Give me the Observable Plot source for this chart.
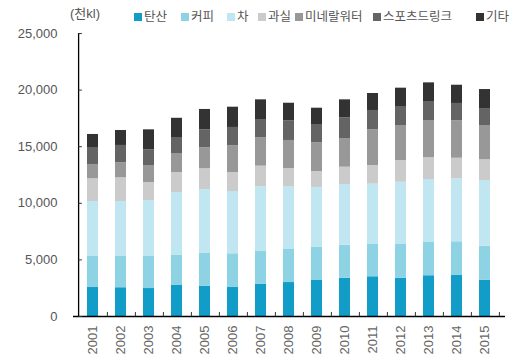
<!DOCTYPE html>
<html>
<head>
<meta charset="utf-8">
<script src="https://cdn.jsdelivr.net/npm/d3@7"></script>
<script src="https://cdn.jsdelivr.net/npm/@observablehq/plot@0.6"></script>
<style>
  html, body { margin: 0; padding: 0; background: #fff; }
  #wrap { position: relative; width: 529px; height: 360px; font-family: "Liberation Sans", "Noto Sans CJK KR", sans-serif; }
  #unit { position: absolute; left: 70px; top: 3px; font-size: 13px; color: #555; }
  #legend { position: absolute; left: 0; top: 8px; width: 529px; height: 18px; font-size: 12.5px; color: #555; font-family: "Noto Sans CJK KR", sans-serif; line-height: 16px; }
  #legend div { position: absolute; top: 0; white-space: nowrap; }
  #legend span.sw { display: inline-block; width: 8px; height: 8px; margin-right: 2px; vertical-align: 0px; }
  svg { position: absolute; left: 0; top: 0; }
</style>
</head>
<body>
<div id="wrap">
  <div id="unit">(천kl)</div>
  <div id="legend"></div>
</div>
<script>
const years = ["2001","2002","2003","2004","2005","2006","2007","2008","2009","2010","2011","2012","2013","2014","2015"];
const seriesNames = ["탄산","커피","차","과실","미네랄워터","스포츠드링크","기타"];
const seriesColors = ["#119dc7","#8ed3e4","#bfe6f1","#cbcbcb","#989898","#646464","#333333"];
const carbonated = [2560,2540,2470,2740,2680,2560,2830,3000,3180,3380,3510,3380,3600,3620,3210];
const coffee     = [2740,2760,2830,2650,2890,2980,2910,2920,2920,2920,2850,2980,2940,2980,3000];
const tea        = [4860,4860,4950,5560,5650,5500,5720,5560,5300,5360,5330,5500,5560,5560,5800];
const fruit      = [2000,2090,1590,1770,1830,1680,1820,1590,1410,1530,1650,1920,1920,1820,1830];
const mineral    = [1270,1330,1500,1680,1850,2360,2510,2480,2530,2530,3150,3090,3290,3310,3030];
const sports     = [1500,1530,1380,1410,1590,1620,1610,1740,1620,1830,1710,1680,1680,1530,1500];
const other      = [1150,1320,1770,1700,1800,1790,1740,1550,1440,1590,1500,1620,1650,1610,1680];
const yTicks = [0,5000,10000,15000,20000,25000];

const seriesValues = [carbonated, coffee, tea, fruit, mineral, sports, other];
const data = [];
years.forEach((yr, i) => {
  seriesNames.forEach((s, j) => data.push({year: yr, series: s, value: seriesValues[j][i]}));
});

const W = 529, H = 360, mL = 73, mR = 24, mT = 33, mB = 44;
const step = (W - mL - mR) / (years.length - 0.6 + 0.6);
const bw = step * 0.4;
const bandStart = step * 0.3;

const chart = Plot.plot({
  width: W, height: H,
  marginLeft: mL, marginRight: mR, marginTop: mT, marginBottom: mB,
  style: {fontFamily: "'Liberation Sans', Arial, sans-serif", fontSize: "13px", color: "#555", background: "transparent"},
  x: {domain: years, paddingInner: 0.6, paddingOuter: 0.3, label: null},
  y: {domain: [0, 25000], label: null},
  color: {domain: seriesNames, range: seriesColors},
  marks: [
    Plot.barY(data, {x: "year", y: "value", fill: "series", z: "series", order: seriesNames}),
    Plot.axisY({ticks: yTicks, tickSize: 0, tickPadding: 16, tickFormat: d3.format(","), fontSize: 13, fill: "#555"}),
    Plot.axisX({tickSize: 0, tickRotate: -90, tickPadding: 9, fontSize: 13, fill: "#666"}),
    Plot.ruleY([0], {stroke: "#000", strokeWidth: 1.3}),
    Plot.ruleX([years[0]], {y1: 0, y2: 25000, dx: -step / 2, stroke: "#000", strokeWidth: 1.3}),
    Plot.ruleX(years, {x: d => d, y1: 0, y2: 350, dx: step / 2, stroke: "#333"}),
    Plot.tickY(yTicks, {y: d => d, x: () => years[0], dx: -bandStart, insetLeft: 0, insetRight: bw - 4, stroke: "#333"})
  ]
});
document.getElementById("wrap").appendChild(chart);

const legendLeft = [134, 181, 227, 258, 295, 373, 476];
const legend = document.getElementById("legend");
seriesNames.forEach((s, j) => {
  const item = document.createElement("div");
  item.style.left = legendLeft[j] + "px";
  item.innerHTML = `<span class="sw" style="background:${seriesColors[j]}"></span>${s}`;
  legend.appendChild(item);
});
</script>
</body>
</html>
